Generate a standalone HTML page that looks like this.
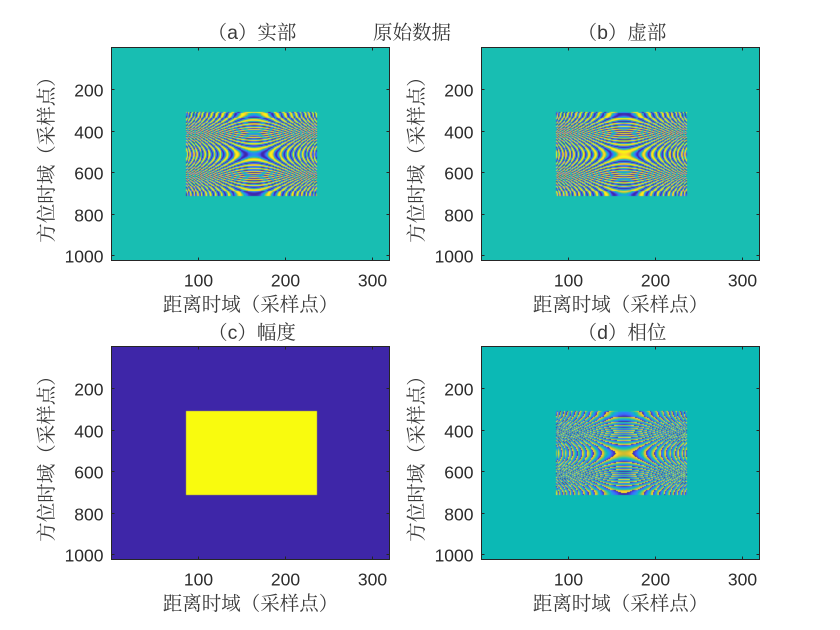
<!DOCTYPE html>
<html lang="zh">
<head>
<meta charset="utf-8">
<title>原始数据</title>
<style>
html,body{margin:0;padding:0;background:#fff;width:840px;height:630px;overflow:hidden}
#figure{position:relative;width:840px;height:630px;background:#fff}
canvas{position:absolute;display:block;filter:blur(0.25px)}
svg{position:absolute;left:0;top:0}
text{font-family:"Liberation Sans","Noto Serif CJK SC",serif;fill:#3a3a3a;font-size:19.5px;text-anchor:middle}
.tick-text{font-size:17.5px;fill:#2b2b2b}
</style>
</head>
<body>
<div id="figure">
  <canvas id="c0" width="278" height="213" style="left:112px;top:48px"></canvas>
  <canvas id="c1" width="278" height="213" style="left:482px;top:48px"></canvas>
  <canvas id="c2" width="278" height="213" style="left:112px;top:347px"></canvas>
  <canvas id="c3" width="278" height="213" style="left:482px;top:347px"></canvas>
  <svg id="overlay" width="840" height="630" viewBox="0 0 840 630">
    <text x="412" y="39">原始数据</text>
    <text x="252" y="39">（a）实部</text>
    <text x="622" y="39">（b）虚部</text>
    <text x="252" y="339">（c）幅度</text>
    <text x="622" y="339">（d）相位</text>
    <text x="250.5" y="311">距离时域（采样点）</text>
    <text x="620.5" y="311">距离时域（采样点）</text>
    <text x="250.5" y="610">距离时域（采样点）</text>
    <text x="620.5" y="610">距离时域（采样点）</text>
    <text transform="translate(53,155) rotate(-90)">方位时域（采样点）</text>
    <text transform="translate(423,155) rotate(-90)">方位时域（采样点）</text>
    <text transform="translate(53,454) rotate(-90)">方位时域（采样点）</text>
    <text transform="translate(423,454) rotate(-90)">方位时域（采样点）</text>
  </svg>
</div>
<script>
// Axis tick labels
const xTickValues = [100, 200, 300];
const yTickValues = [200, 400, 600, 800, 1000];

// Data extent (columns, rows)
const imageColumns = 320;
const imageRows = 1024;

// Echo region and its fringe centre
const echoColumns = [86, 236];
const echoRows = [310, 711];
const fringeCentre = [164, 512];

// Fringe model (units of pi per sample^2, and pi)
const rangeChirpRate = [0.00360];
const azimuthChirpRate = [0.00101];
const centrePhase = [0.65];

// Amplitude outside and inside the echo region
const magnitudeLevels = [0, 1];

// Colour limits of each panel
const realLimits = [-1, 1];
const imagLimits = [-1, 1];
const magnitudeLimits = [0, 1];
const phaseLimits = [-3.0, 3.2];

// Colormap
const parulaStops = [0, .11, .2, .317, .43, .48, .5, .62, .7, .81, .9, 1];
const parulaRGB = [[62,38,168],[72,82,244],[50,120,250],[39,150,235],[15,175,215],[8,184,182],[24,190,178],[55,200,151],[129,204,89],[209,187,45],[254,200,50],[249,251,14]];

const plotW = 278, plotH = 213;

function parula(t) {
  t = Math.max(0, Math.min(1, t));
  let i = 0;
  while (i < parulaStops.length - 2 && t > parulaStops[i + 1]) i++;
  const f = (t - parulaStops[i]) / (parulaStops[i + 1] - parulaStops[i]);
  return parulaRGB[i].map((c, k) => c + (parulaRGB[i + 1][k] - c) * f);
}

function insideEcho(col, row) {
  return col >= echoColumns[0] && col <= echoColumns[1] && row >= echoRows[0] && row <= echoRows[1];
}

function fringePhase(col, row) {
  const u = col - fringeCentre[0], v = row - fringeCentre[1];
  return Math.PI * (centrePhase[0] + rangeChirpRate[0] * u * u - azimuthChirpRate[0] * v * v);
}

function wrapPhase(p) {
  return Math.atan2(Math.sin(p), Math.cos(p));
}

const panelValue = [
  (c, r) => insideEcho(c, r) ? Math.cos(fringePhase(c, r)) : 0,
  (c, r) => insideEcho(c, r) ? Math.sin(fringePhase(c, r)) : 0,
  (c, r) => insideEcho(c, r) ? magnitudeLevels[1] : magnitudeLevels[0],
  (c, r) => insideEcho(c, r) ? wrapPhase(fringePhase(c, r)) : 0
];
const panelLimits = [realLimits, imagLimits, magnitudeLimits, phaseLimits];

panelValue.forEach((valueAt, n) => {
  const canvas = document.getElementById('c' + n);
  const ctx = canvas.getContext('2d');
  const img = ctx.createImageData(plotW, plotH);
  const lim = panelLimits[n];
  for (let py = 0; py < plotH; py++) {
    const row = Math.floor((py + 0.5) / plotH * imageRows) + 1;
    for (let px = 0; px < plotW; px++) {
      const col = Math.floor((px + 0.5) / plotW * imageColumns) + 1;
      const rgb = parula((valueAt(col, row) - lim[0]) / (lim[1] - lim[0]));
      const o = 4 * (py * plotW + px);
      img.data[o] = rgb[0];
      img.data[o + 1] = rgb[1];
      img.data[o + 2] = rgb[2];
      img.data[o + 3] = 255;
    }
  }
  ctx.putImageData(img, 0, 0);
});

const overlay = document.getElementById('overlay');
const NS = 'http://www.w3.org/2000/svg';
const axisOrigins = [[111.5, 47.5], [481.5, 47.5], [111.5, 346.5], [481.5, 346.5]];

function tickLine(x1, y1, x2, y2) {
  const t = document.createElementNS(NS, 'line');
  t.setAttribute('x1', x1);
  t.setAttribute('y1', y1);
  t.setAttribute('x2', x2);
  t.setAttribute('y2', y2);
  t.setAttribute('stroke', '#262626');
  t.setAttribute('stroke-width', '1');
  
  
  overlay.appendChild(t);
}

axisOrigins.forEach(([ox, oy]) => {
  const xScale = v => ox + (v - 0.5) / imageColumns * plotW;
  const yScale = v => oy + (v - 0.5) / imageRows * plotH;

  const box = document.createElementNS(NS, 'rect');
  box.setAttribute('x', ox);
  box.setAttribute('y', oy);
  box.setAttribute('width', plotW);
  box.setAttribute('height', plotH);
  box.setAttribute('fill', 'none');
  box.setAttribute('stroke', '#262626');
  box.setAttribute('stroke-width', '1');
  
  
  overlay.appendChild(box);

  xTickValues.forEach(v => {
    const x = Math.round(xScale(v)) + 0.5;
    tickLine(x, oy, x, oy + 3);
    tickLine(x, oy + plotH, x, oy + plotH - 3);
    const label = document.createElementNS(NS, 'text');
    label.setAttribute('class', 'tick-text');
    label.setAttribute('x', x);
    label.setAttribute('y', oy + plotH + 26);
    
    
    label.textContent = v;
    overlay.appendChild(label);
  });

  yTickValues.forEach(v => {
    const y = Math.round(yScale(v)) + 0.5;
    tickLine(ox, y, ox + 3, y);
    tickLine(ox + plotW, y, ox + plotW - 3, y);
    const label = document.createElementNS(NS, 'text');
    label.setAttribute('class', 'tick-text');
    label.setAttribute('x', ox - 8);
    label.setAttribute('y', y + 7);
    label.setAttribute('style', 'text-anchor:end');
    
    
    label.textContent = v;
    overlay.appendChild(label);
  });
});
</script>
</body>
</html>
